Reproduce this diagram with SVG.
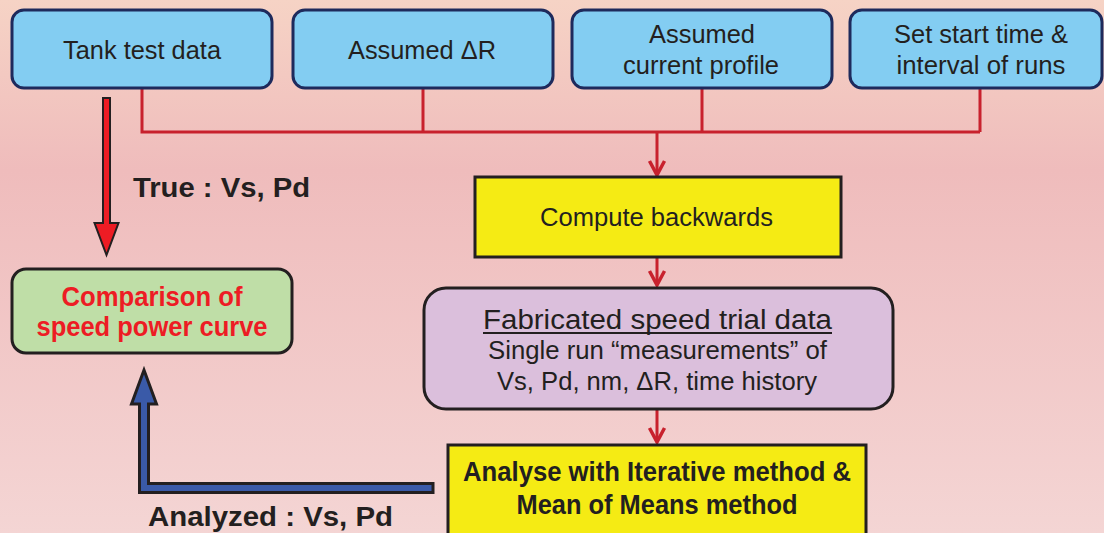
<svg xmlns="http://www.w3.org/2000/svg" width="1104" height="533" viewBox="0 0 1104 533">
  <defs>
    <linearGradient id="bg" x1="0" y1="0" x2="0" y2="1">
      <stop offset="0" stop-color="#f6d3c5"/>
      <stop offset="0.32" stop-color="#efbcbc"/>
      <stop offset="1" stop-color="#f4d5d4"/>
    </linearGradient>
    <polyline id="head" points="-7.5,-15 0,-1 7.5,-15" fill="none" stroke="#c8212d" stroke-width="3.5" stroke-linejoin="miter"/>
  </defs>
  <style>
    .input { fill: #83cdf2; stroke: #1e2a5c; stroke-width: 3; }
    .box { stroke: #231f20; stroke-width: 3; }
    .t { font-family: "Liberation Sans", Arial, sans-serif; font-size: 25px; fill: #231f20; text-anchor: middle; }
    .b { font-family: "Liberation Sans", Arial, sans-serif; font-size: 27px; font-weight: bold; fill: #231f20; }
    .link { fill: none; stroke: #c8212d; stroke-width: 3; }
  </style>

  <rect width="1104" height="533" fill="url(#bg)"/>

  <!-- connectors -->
  <g id="connectors">
    <polyline class="link" points="142,88 142,132 980,132"/>
    <line class="link" x1="423" y1="88" x2="423" y2="132"/>
    <line class="link" x1="702" y1="88" x2="702" y2="132"/>
    <line class="link" x1="980" y1="88" x2="980" y2="132"/>
    <line class="link" x1="657" y1="132" x2="657" y2="175"/>
    <use href="#head" x="657" y="176"/>
    <line class="link" x1="657" y1="257" x2="657" y2="285"/>
    <use href="#head" x="657" y="286"/>
    <line class="link" x1="657" y1="409" x2="657" y2="442"/>
    <use href="#head" x="657" y="443"/>
    <!-- true values arrow -->
    <polygon points="103,98 110,98 110,223 118.5,223 106.5,255 94.5,223 103,223" fill="#ed1c24" stroke="#231f20" stroke-width="2" stroke-linejoin="miter"/>
    <!-- analyzed values arrow -->
    <polygon points="433,483.5 148.5,483.5 148.5,404 156.5,404 144,370 131.5,404 139.5,404 139.5,492.5 433,492.5" fill="#3a5aa8" stroke="#231f20" stroke-width="3" stroke-linejoin="miter"/>
    <text class="b" x="133" y="197" textLength="177" lengthAdjust="spacingAndGlyphs">True : Vs, Pd</text>
    <text class="b" x="148" y="526" textLength="245" lengthAdjust="spacingAndGlyphs">Analyzed : Vs, Pd</text>
  </g>

  <g id="tank-test-data">
    <rect class="input" x="12" y="10" width="260" height="78" rx="12"/>
    <text class="t" x="142" y="59" textLength="158" lengthAdjust="spacingAndGlyphs">Tank test data</text>
  </g>

  <g id="assumed-dr">
    <rect class="input" x="293" y="10" width="260" height="78" rx="12"/>
    <text class="t" x="422" y="59" textLength="148" lengthAdjust="spacingAndGlyphs">Assumed ΔR</text>
  </g>

  <g id="assumed-current">
    <rect class="input" x="572" y="10" width="260" height="78" rx="12"/>
    <text class="t" x="702" y="43" textLength="106" lengthAdjust="spacingAndGlyphs">Assumed</text>
    <text class="t" x="701" y="74" textLength="156" lengthAdjust="spacingAndGlyphs">current profile</text>
  </g>

  <g id="start-time">
    <rect class="input" x="850" y="10" width="252" height="78" rx="12"/>
    <text class="t" x="981" y="43" textLength="174" lengthAdjust="spacingAndGlyphs">Set start time &amp;</text>
    <text class="t" x="981" y="74" textLength="169" lengthAdjust="spacingAndGlyphs">interval of runs</text>
  </g>

  <g id="comparison">
    <rect class="box" x="12" y="269" width="280" height="84" rx="14" fill="#bfdea7"/>
    <text class="b" x="152" y="306" text-anchor="middle" fill="#ed1c24" style="fill:#ed1c24" textLength="181" lengthAdjust="spacingAndGlyphs">Comparison of</text>
    <text class="b" x="152" y="336" text-anchor="middle" style="fill:#ed1c24" textLength="231" lengthAdjust="spacingAndGlyphs">speed power curve</text>
  </g>

  <g id="compute-backwards">
    <rect class="box" x="475" y="177" width="366" height="80" fill="#f5eb14"/>
    <text class="t" x="656.5" y="226" textLength="233" lengthAdjust="spacingAndGlyphs">Compute backwards</text>
  </g>

  <g id="fabricated-data">
    <rect class="box" x="424" y="288" width="469" height="121" rx="22" fill="#dbbfdc"/>
    <text class="t" x="657.5" y="329" style="font-size:27px" textLength="349" lengthAdjust="spacingAndGlyphs">Fabricated speed trial data</text>
    <line x1="483" y1="333" x2="832" y2="333" stroke="#231f20" stroke-width="2"/>
    <text class="t" x="657.5" y="359" textLength="339" lengthAdjust="spacingAndGlyphs">Single run “measurements” of</text>
    <text class="t" x="657" y="390" textLength="320" lengthAdjust="spacingAndGlyphs">Vs, Pd, nm, ΔR, time history</text>
  </g>

  <g id="analyse">
    <rect class="box" x="448" y="445" width="418" height="95" fill="#f5eb14"/>
    <text class="b" x="657" y="481" text-anchor="middle" textLength="388" lengthAdjust="spacingAndGlyphs">Analyse with Iterative method &amp;</text>
    <text class="b" x="657" y="514" text-anchor="middle" textLength="281" lengthAdjust="spacingAndGlyphs">Mean of Means method</text>
  </g>
</svg>
